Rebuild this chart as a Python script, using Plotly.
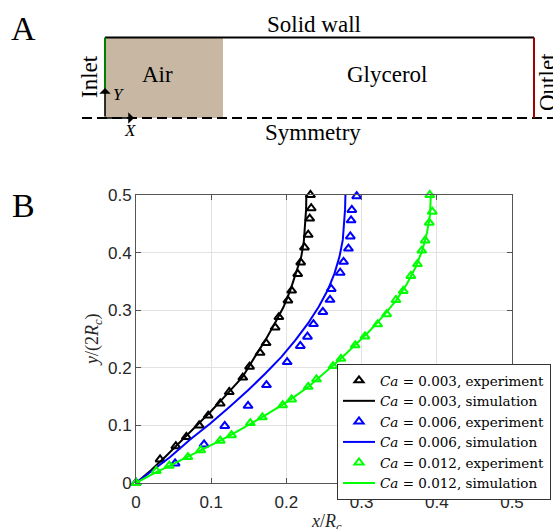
import plotly.graph_objects as go

# Capillary numbers of the three runs
ca_labels = ["0.003", "0.006", "0.012"]
colors = ["#000000", "#0000ff", "#00ff00"]

# Experimental interface profiles (x/Rc, y/(2Rc))
exp_x_003 = [0, 0.032, 0.053, 0.067, 0.084, 0.096, 0.112, 0.124, 0.142, 0.151, 0.165, 0.173,
             0.185, 0.190, 0.202, 0.207, 0.215, 0.219, 0.224, 0.229, 0.231, 0.233, 0.232]
exp_y_003 = [0, 0.041, 0.064, 0.080, 0.100, 0.117, 0.138, 0.158, 0.183, 0.202, 0.226, 0.243,
             0.270, 0.288, 0.317, 0.334, 0.363, 0.383, 0.409, 0.431, 0.459, 0.477, 0.500]

exp_x_006 = [0, 0.052, 0.0905, 0.118, 0.149, 0.1735, 0.201, 0.2185, 0.228, 0.236, 0.2485,
             0.258, 0.2596, 0.2715, 0.276, 0.2825, 0.285, 0.286, 0.287, 0.2935]
exp_y_006 = [0, 0.034, 0.067, 0.099, 0.134, 0.170, 0.210, 0.238, 0.254, 0.276, 0.297,
             0.318, 0.337, 0.365, 0.384, 0.407, 0.428, 0.456, 0.474, 0.498]

exp_x_012 = [0, 0.027, 0.0443, 0.069, 0.086, 0.112, 0.127, 0.152, 0.168, 0.195, 0.207, 0.229,
             0.240, 0.262, 0.2725, 0.2915, 0.3045, 0.3213, 0.3333, 0.3457, 0.3554, 0.3655,
             0.3743, 0.380, 0.3845, 0.390, 0.394, 0.3907]
exp_y_012 = [0, 0.021, 0.030, 0.045, 0.057, 0.0735, 0.083, 0.104, 0.114, 0.135, 0.145, 0.167,
             0.180, 0.203, 0.2155, 0.239, 0.2545, 0.2755, 0.293, 0.3177, 0.3334, 0.3595,
             0.380, 0.4035, 0.421, 0.452, 0.471, 0.500]

# Simulated interface profiles
sim_x_003 = [0, 0.02, 0.04, 0.06, 0.08, 0.10, 0.12, 0.1417, 0.158, 0.172, 0.1845, 0.196,
             0.2053, 0.213, 0.2198, 0.2232, 0.2252, 0.2262, 0.2265]
sim_y_003 = [0, 0.022, 0.047, 0.073, 0.099, 0.125, 0.153, 0.184, 0.219, 0.248, 0.277, 0.305,
             0.335, 0.365, 0.393, 0.420, 0.451, 0.475, 0.500]

sim_x_006 = [0, 0.0454, 0.072, 0.0984, 0.125, 0.149, 0.172, 0.1934, 0.212, 0.2287, 0.243,
             0.255, 0.264, 0.2706, 0.275, 0.277, 0.278, 0.2785]
sim_y_006 = [0, 0.045, 0.0754, 0.103, 0.133, 0.161, 0.190, 0.219, 0.248, 0.277, 0.306,
             0.335, 0.364, 0.393, 0.422, 0.451, 0.475, 0.500]

sim_x_012 = [0, 0.027, 0.045, 0.07, 0.09, 0.112, 0.13, 0.152, 0.17, 0.195, 0.21, 0.23, 0.25,
             0.27, 0.29, 0.31, 0.33, 0.346, 0.36, 0.372, 0.381, 0.387, 0.391, 0.392]
sim_y_012 = [0, 0.019, 0.030, 0.046, 0.059, 0.0735, 0.086, 0.102, 0.116, 0.136, 0.149, 0.168,
             0.19, 0.213, 0.238, 0.263, 0.292, 0.317, 0.345, 0.375, 0.405, 0.435, 0.465, 0.500]

x_ticks = [0, 0.1, 0.2, 0.3, 0.4, 0.5]
y_ticks = [0, 0.1, 0.2, 0.3, 0.4, 0.5]

exp_sets = [(exp_x_003, exp_y_003), (exp_x_006, exp_y_006), (exp_x_012, exp_y_012)]
sim_sets = [(sim_x_003, sim_y_003), (sim_x_006, sim_y_006), (sim_x_012, sim_y_012)]

W, H = 553, 529
ML, MR, MT, MB = 136, 41, 195, 46
PW, PH = W - ML - MR, H - MT - MB

SERIF = "Liberation Serif, Times New Roman, serif"
WIDE_SERIF = "DejaVu Serif, serif"
SANS = "Liberation Sans, Arial, sans-serif"


def px(x):
    return (x - ML) / PW


def py(y):
    return (H - MB - y) / PH


fig = go.Figure()
for lab, col, (ex, ey), (sx, sy) in zip(ca_labels, colors, exp_sets, sim_sets):
    fig.add_trace(go.Scatter(
        x=ex, y=ey, mode="markers", cliponaxis=False,
        name=f"<i>Ca</i> = {lab}, experiment",
        marker=dict(symbol="triangle-up-open", size=8, color=col, line=dict(width=2, color=col)),
    ))
    fig.add_trace(go.Scatter(
        x=sx, y=sy, mode="lines", cliponaxis=False,
        name=f"<i>Ca</i> = {lab}, simulation",
        line=dict(color=col, width=2),
    ))

axis_common = dict(
    showgrid=True, gridcolor="#e2e2e2", gridwidth=1,
    showline=True, linecolor="#555555", linewidth=1, mirror="ticks",
    ticks="inside", ticklen=5, tickcolor="#555555",
    tickfont=dict(family=SANS, size=17, color="#262626"),
    zeroline=False,
)
fig.update_xaxes(range=[0, 0.5], tickvals=x_ticks, ticktext=[f"{v:g}" for v in x_ticks],
                 ticklabelstandoff=4, **axis_common)
fig.update_yaxes(range=[0, 0.5], tickvals=y_ticks, ticktext=[f"{v:g}" for v in y_ticks], **axis_common)

# Schematic of the computational domain (panel A)
shapes = [
    dict(type="rect", xref="paper", yref="paper", x0=px(105), x1=px(223), y0=py(37.5), y1=py(118),
         fillcolor="#c8b8a3", line=dict(width=0), layer="below"),
    dict(type="line", xref="paper", yref="paper", x0=px(82), x1=px(553), y0=py(118), y1=py(118),
         line=dict(color="black", width=2, dash="10px,5px")),
    dict(type="line", xref="paper", yref="paper", x0=px(105), x1=px(534), y0=py(37.5), y1=py(37.5),
         line=dict(color="black", width=2)),
    dict(type="line", xref="paper", yref="paper", x0=px(105), x1=px(105), y0=py(37.5), y1=py(92),
         line=dict(color="#008000", width=2)),
    dict(type="line", xref="paper", yref="paper", x0=px(534), x1=px(534), y0=py(37.5), y1=py(118),
         line=dict(color="#a00000", width=2)),
]

annotations = []


def label(text, x, y, size=23, angle=0, italic=False):
    if italic:
        text = f"<i>{text}</i>"
    annotations.append(dict(
        text=text, xref="paper", yref="paper", x=px(x), y=py(y), xanchor="center", yanchor="middle",
        showarrow=False, textangle=angle, font=dict(family=SERIF, size=size, color="black"),
    ))


label("A", 23, 28, size=34)
label("B", 23, 205, size=34)
label("Solid wall", 314, 24)
label("Air", 157, 74)
label("Glycerol", 387, 75)
label("Inlet", 90, 77, angle=-90)
label("Outlet", 548, 82, angle=-90)
label("Symmetry", 313, 132)
label("X", 130, 130, size=17, italic=True)
label("Y", 118, 94, size=17, italic=True)

# Coordinate arrows at the origin of the domain
for hx, hy, ax, ay in [(105, 88, 0, 30), (134, 118, -29, 0)]:
    annotations.append(dict(
        xref="paper", yref="paper", x=px(hx), y=py(hy), ax=ax, ay=ay, axref="pixel", ayref="pixel",
        text="", showarrow=True, arrowhead=1, arrowsize=1.2, arrowwidth=1.6, arrowcolor="black",
    ))

# Axis titles
annotations.append(dict(
    text="<i>y</i>/(2<i>R</i><sub><i>c</i></sub>)", xref="paper", yref="paper",
    x=px(93), y=py(340), textangle=-90, showarrow=False, xanchor="center", yanchor="middle",
    font=dict(family=SERIF, size=18, color="#262626"),
))
annotations.append(dict(
    text="<i>x</i>/<i>R</i><sub><i>c</i></sub>", xref="paper", yref="paper",
    x=px(326), y=py(522), showarrow=False, xanchor="center", yanchor="middle",
    font=dict(family=SERIF, size=18, color="#262626"),
))

fig.update_layout(
    width=W, height=H,
    margin=dict(l=ML, r=MR, t=MT, b=MB, autoexpand=False),
    paper_bgcolor="white", plot_bgcolor="white",
    showlegend=True,
    legend=dict(
        x=px(337), y=py(364), xanchor="left", yanchor="top",
        bgcolor="white", bordercolor="#333333", borderwidth=1,
        font=dict(family=WIDE_SERIF, size=13.5, color="black"),
        tracegroupgap=0, itemwidth=32,
    ),
    shapes=shapes,
    annotations=annotations,
)

fig.write_html("out.html")
